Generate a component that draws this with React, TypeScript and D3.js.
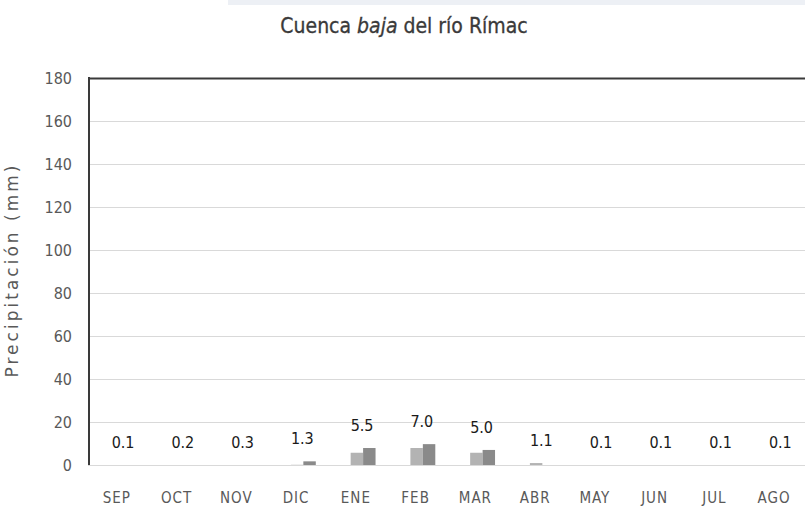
import { FC, useEffect, useRef } from 'react';
import * as d3 from 'd3';

// months of the hydrological year
const months = ['SEP', 'OCT', 'NOV', 'DIC', 'ENE', 'FEB', 'MAR', 'ABR', 'MAY', 'JUN', 'JUL', 'AGO'];
// light grey bars (mm)
const seriesA = [0, 0, 0, 0.1, 5.7, 7.9, 5.7, 0.9, 0, 0, 0, 0];
// dark grey bars (mm)
const seriesB = [0, 0, 0, 1.7, 7.9, 9.7, 7.0, 0, 0, 0, 0, 0];
// labels written over each month
const labels = ['0.1', '0.2', '0.3', '1.3', '5.5', '7.0', '5.0', '1.1', '0.1', '0.1', '0.1', '0.1'];
const yTicks = [0, 20, 40, 60, 80, 100, 120, 140, 160, 180];

const W = 805;
const H = 508;
const NARROW = '"DejaVu Sans Condensed", "DejaVu Sans", sans-serif';

const App: FC = () => {
  const ref = useRef<SVGSVGElement>(null);

  useEffect(() => {
    const svg = d3.select(ref.current);
    svg.selectAll('*').remove();

    const margin = { top: 78, right: 0, bottom: 43, left: 88 };
    const plotW = W - margin.left - margin.right;
    const plotH = H - margin.top - margin.bottom;

    // light strip at the very top
    svg.append('rect').attr('x', 228).attr('y', 0).attr('width', W - 228).attr('height', 5).attr('fill', '#edf0f5');

    // title
    const title = svg
      .append('text')
      .attr('x', 404)
      .attr('y', 33)
      .attr('text-anchor', 'middle')
      .attr('font-family', NARROW)
      .attr('font-stretch', 'condensed')
      .attr('font-size', 21)
      .attr('fill', '#3a3a3a')
      .attr('stroke', '#3a3a3a')
      .attr('stroke-width', 0.3);
    title.append('tspan').text('Cuenca ');
    title.append('tspan').attr('font-style', 'italic').text('baja');
    title.append('tspan').text(' del río Rímac');

    const g = svg.append('g').attr('transform', `translate(${margin.left},${margin.top})`);

    const x0 = d3.scaleBand<string>().domain(months).range([0, plotW]).padding(0);
    // three slots per month: the first one is empty
    const x1 = d3
      .scaleBand<string>()
      .domain(['empty', 'a', 'b'])
      .range([0, x0.bandwidth()])
      .paddingInner(0)
      .paddingOuter(0.9);
    const y = d3.scaleLinear().domain([0, 180]).range([plotH, 0]);

    // grid
    g.append('g')
      .selectAll('line')
      .data(yTicks)
      .join('line')
      .attr('x1', 0)
      .attr('x2', plotW)
      .attr('y1', (d) => y(d) + 0.5)
      .attr('y2', (d) => y(d) + 0.5)
      .attr('stroke', (d) => (d === 180 ? '#3a3a3a' : '#d9d9d9'))
      .attr('stroke-width', (d) => (d === 180 ? 2 : 1));

    // left axis line
    g.append('line')
      .attr('x1', 1)
      .attr('x2', 1)
      .attr('y1', -1)
      .attr('y2', plotH)
      .attr('stroke', '#3a3a3a')
      .attr('stroke-width', 2);

    // y tick labels
    g.append('g')
      .selectAll('text')
      .data(yTicks)
      .join('text')
      .attr('x', -16)
      .attr('y', (d) => y(d))
      .attr('dy', '0.36em')
      .attr('text-anchor', 'end')
      .attr('font-family', NARROW)
      .attr('font-stretch', 'condensed')
      .attr('font-size', 16)
      .attr('fill', '#595959')
      .text((d) => d);

    // y title
    svg
      .append('text')
      .attr('transform', `translate(18,${margin.top + plotH / 2}) rotate(-90)`)
      .attr('text-anchor', 'middle')
      .attr('font-family', '"DejaVu Sans", sans-serif')
      .attr('font-size', 17)
      .attr('textLength', 212)
      .attr('lengthAdjust', 'spacing')
      .attr('fill', '#595959')
      .text('Precipitación (mm)');

    const groups = g
      .append('g')
      .selectAll('g')
      .data(months)
      .join('g')
      .attr('transform', (d) => `translate(${x0(d)},0)`);

    groups
      .append('rect')
      .attr('x', x1('a')!)
      .attr('width', x1.bandwidth())
      .attr('y', (_, i) => y(seriesA[i]))
      .attr('height', (_, i) => plotH - y(seriesA[i]))
      .attr('fill', '#b3b3b3');

    groups
      .append('rect')
      .attr('x', x1('b')!)
      .attr('width', x1.bandwidth())
      .attr('y', (_, i) => y(seriesB[i]))
      .attr('height', (_, i) => plotH - y(seriesB[i]))
      .attr('fill', '#8a8a8a');

    // value labels
    groups
      .append('text')
      .attr('x', x1('a')! + x1.bandwidth() - 1)
      .attr('y', (_, i) => y(Math.max(seriesA[i], seriesB[i])) - 17)
      .attr('text-anchor', 'middle')
      .attr('font-family', NARROW)
      .attr('font-stretch', 'condensed')
      .attr('font-size', 16)
      .attr('fill', '#1a1a1a')
      .text((_, i) => labels[i]);

    // month labels
    groups
      .append('text')
      .attr('x', x0.bandwidth() / 2 - 1)
      .attr('y', plotH + 38)
      .attr('text-anchor', 'middle')
      .attr('font-family', NARROW)
      .attr('font-stretch', 'condensed')
      .attr('font-size', 15)
      .attr('letter-spacing', 1)
      .attr('fill', '#595959')
      .text((d) => d);
  }, []);

  return (
    <svg
      ref={ref}
      width={W}
      height={H}
      style={{ position: 'absolute', left: 0, top: 0, background: '#fff' }}
    />
  );
};

export default App;
